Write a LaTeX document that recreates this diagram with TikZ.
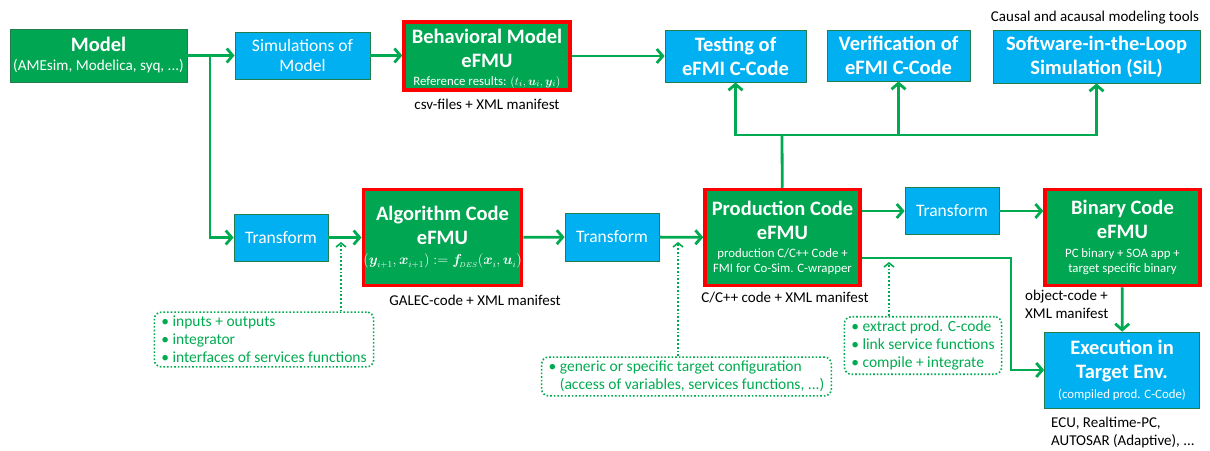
\documentclass[tikz,border=0pt]{standalone}
\usepackage{amsmath,bm}
\usepackage{fontspec}
\setmainfont{Carlito}
\usetikzlibrary{positioning, arrows.meta, calc}

\definecolor{boxgreen}{RGB}{0,166,81}
\definecolor{boxblue}{RGB}{0,176,240}
\definecolor{flowgreen}{RGB}{0,170,80}
\definecolor{edgegreen}{RGB}{35,125,75}

\newcommand\hdfont{\fontsize{20.5}{24}\selectfont\bfseries}
\newcommand\txfont{\fontsize{17.5}{20}\selectfont}
\newcommand\smfont{\fontsize{12.8}{15}\selectfont\mdseries}

\begin{document}
\begin{tikzpicture}[
  x=1pt, y=-1pt,
  >={Straight Barb[length=6pt,width=14pt]},
  box/.style={rectangle, text=white, align=center, inner sep=0pt, font=\hdfont},
  greenbox/.style={box, fill=boxgreen, draw=edgegreen, line width=0.8pt},
  bluebox/.style={box, fill=boxblue, draw=edgegreen, line width=0.8pt},
  plain/.style={font=\txfont},
  efmu/.style={box, fill=boxgreen, draw=red, line width=3.5pt,
    minimum width=155pt, minimum height=96pt},
  link/.style={draw=flowgreen, line width=2.8pt},
  flow/.style={link, ->},
  hint/.style={draw=flowgreen, line width=1.8pt, dotted,
    -{Straight Barb[length=4pt,width=10pt,line width=1.6pt]}},
  notebox/.style={draw=flowgreen, line width=1.6pt, dotted, rounded corners=7pt,
    text=flowgreen, align=left, font=\fontsize{15.5}{18}\selectfont,
    inner xsep=7pt, inner ysep=4pt},
  tag/.style={align=left, font=\fontsize{15}{17.5}\selectfont, inner sep=0pt}
]
\useasboundingbox (0,0) rectangle (1210,450);

% Top row: model, simulation and the tools that use the reference results
\node[greenbox, minimum width=177pt, minimum height=53pt] (model) at (98.5,55.5)
  {Model\\[-5pt]{\fontsize{15.2}{18}\selectfont\mdseries (AMEsim, Modelica, syq, ...)}};
\node[bluebox, plain, minimum width=135pt, minimum height=47pt] (simmodel) at (302.5,55.5)
  {Simulations of\\Model};
\node[efmu, minimum width=166pt, minimum height=68pt] (behav) at (487,56)
  {\rule{0pt}{19pt}Behavioral Model\\eFMU\\[-6pt]
   {\smfont Reference results: $(t_i,\bm{u}_i,\bm{y}_i)$}};
\node[bluebox, minimum width=141pt, minimum height=52pt] (testing) at (735.5,56)
  {Testing of\\eFMI C-Code};
\node[bluebox, minimum width=143pt, minimum height=51pt] (verif) at (898.5,55.5)
  {Verification of\\eFMI C-Code};
\node[bluebox, minimum width=207pt, minimum height=53pt] (sil) at (1096.5,56.5)
  {Software-in-the-Loop\\Simulation (SiL)};

\node[tag, below=7pt of behav] (csv) {csv-files + XML manifest};
\node[tag] (tools) at (1095,18) {Causal and acausal modeling tools};

% Bottom row: transformation chain down to the target
\node[bluebox, plain, minimum width=94pt, minimum height=47pt] (trafoA) at (281,237.5) {Transform};
\node[efmu] (algo) at (442.5,237.5)
  {Algorithm Code\\eFMU\\[-4pt]
   {\fontsize{13.5}{15}\selectfont\mdseries $(\bm{y}_{i+1},\bm{x}_{i+1}) \mathrel{:=} \bm{f}_{\!\scriptscriptstyle DES}(\bm{x}_i,\bm{u}_i)$}};
\node[bluebox, plain, minimum width=94pt, minimum height=48pt] (trafoB) at (612,237) {Transform};
\node[efmu] (prod) at (782.5,237.5)
  {Production Code\\eFMU\\[-6pt]
   {\smfont production C/C++ Code +}\\[-9pt]{\smfont FMI for Co-Sim. C-wrapper}};
\node[bluebox, plain, minimum width=94pt, minimum height=47pt] (trafoC) at (952,211) {Transform};
\node[efmu] (binary) at (1122.5,237.5)
  {Binary Code\\eFMU\\[-5pt]
   {\smfont PC binary + SOA app +}\\[-9pt]{\smfont target specific binary}};
\node[bluebox, minimum width=155pt, minimum height=76pt] (exec) at (1122,370)
  {Execution in\\Target Env.\\[-4pt]{\smfont (compiled prod. C-Code)}};

\node[tag] (galec) at (475,300) {GALEC-code + XML manifest};
\node[tag] (cpp) at (785,298) {C/C++ code + XML manifest};
\node[tag, anchor=north west] (objcode) at (1025,290) {object-code +\\XML manifest};
\node[tag, anchor=north west] (ecu) at (1051,417) {ECU, Realtime-PC,\\AUTOSAR (Adaptive), ...};

% Dotted notes
\node[notebox] (noteA) at (264,339.5)
  {\textbullet\ inputs + outputs\\\textbullet\ integrator\\\textbullet\ interfaces of services functions};
\node[notebox] (noteB) at (686.5,376.5)
  {\textbullet\ generic or specific target configuration\\
   \phantom{\textbullet\ }(access of variables, services functions, ...)};
\node[notebox] (noteC) at (923,345.5)
  {\textbullet\ extract prod. C-code\\\textbullet\ link service functions\\\textbullet\ compile + integrate};

\coordinate (split) at (210,55.5);
\coordinate (bus) at (782,135);
\coordinate (tap) at (1011,258);
\coordinate (hintA) at (341,242);
\coordinate (hintB) at (678,242);
\coordinate (hintC) at (889,262);

% Arrows
\draw[flow] (model) -- (model -| simmodel.west);
\draw[flow] (split) |- (trafoA);
\draw[flow] (simmodel) -- (simmodel -| behav.west);
\draw[flow] (behav.east |- testing) -- (testing);
\draw[link] (prod) -- (bus);
\draw[flow] (bus) -| (testing);
\draw[flow] (bus) -| (verif);
\draw[flow] (bus) -| (sil);
\draw[flow] (trafoA) -- (algo);
\draw[flow] (algo) -- (trafoB);
\draw[flow] (trafoB) -- (prod);
\draw[flow] (prod.east |- trafoC) -- (trafoC);
\draw[flow] (trafoC) -- (trafoC -| binary.west);
\draw[flow] (prod.east |- tap) -- (tap) |- (exec);
\draw[flow] (binary) -- (exec);

\draw[hint] (noteA.north -| hintA) -- (hintA);
\draw[hint] (noteB.north -| hintB) -- (hintB);
\draw[hint] (noteC.north -| hintC) -- (hintC);

\end{tikzpicture}
\end{document}
